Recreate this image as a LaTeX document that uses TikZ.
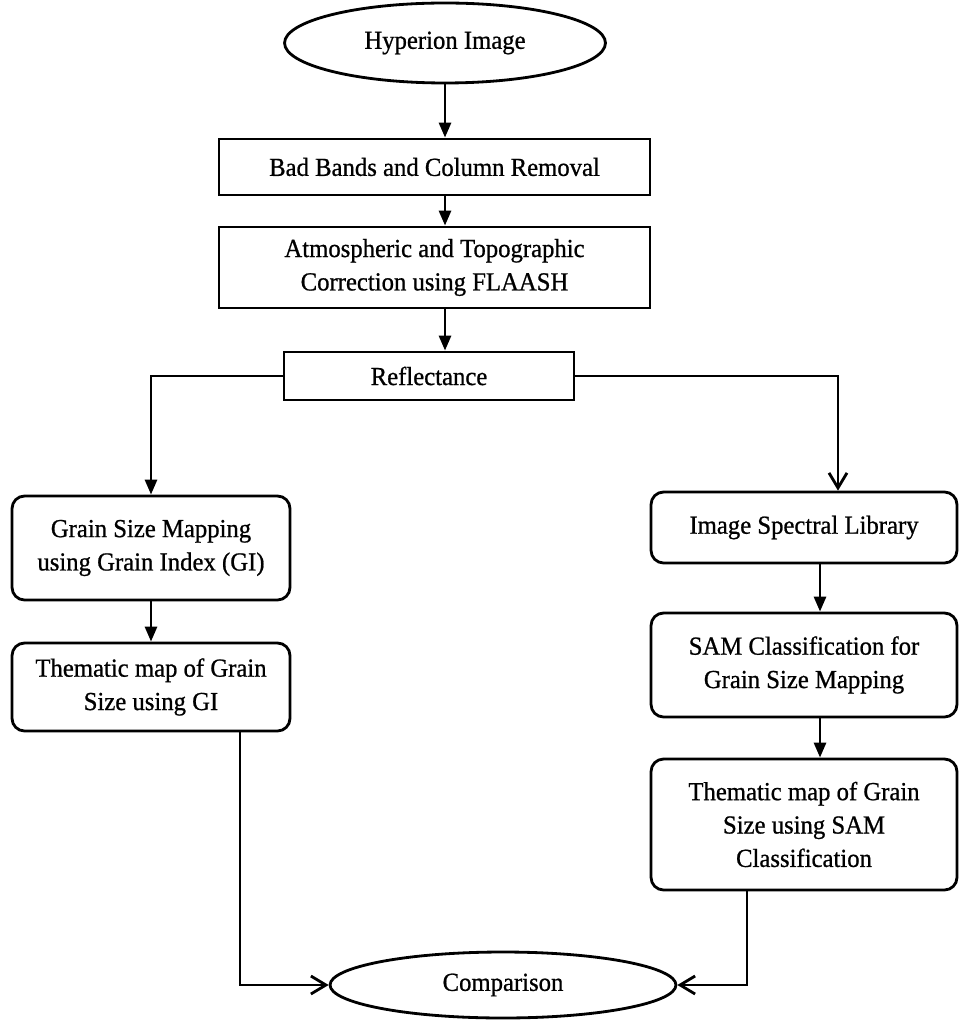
\documentclass[tikz,border=0pt]{standalone}
\usepackage{fontspec}
\setmainfont{Liberation Serif}[FakeBold=0.8, FakeStretch=0.95]
\usetikzlibrary{shapes.geometric, arrows.meta}

\begin{document}
\begin{tikzpicture}[x=0.02cm, y=-0.02cm, line width=1.6pt,
    font=\fontsize{14.8}{19}\selectfont,
    box/.style={draw, align=center, inner sep=0pt},
    rbox/.style={box, rounded corners=0.25cm},
    oval/.style={draw, ellipse, inner sep=0pt},
    fill tip/.style={-{Triangle[length=0.3cm, width=0.24cm]}},
    open tip/.style={-{Straight Barb[length=0.3cm, width=0.36cm]}}]

% Manually size the picture
\useasboundingbox (0, 0) rectangle (959, 1020);

% Main chain
\node[oval, minimum width=6.42cm, minimum height=1.6cm] (hyperion) at (445, 43) {Hyperion Image};
\node[box, minimum width=8.62cm, minimum height=1.12cm] (badbands) at (434.5, 167) {Bad Bands and Column Removal};
\node[box, minimum width=8.62cm, minimum height=1.62cm] (atmos) at (434.5, 267.5) {Atmospheric and Topographic\\Correction using FLAASH};
\node[box, minimum width=5.8cm, minimum height=0.96cm] (refl) at (429, 376) {Reflectance};

% Left branch
\node[rbox, minimum width=5.56cm, minimum height=2.08cm] (gsmap) at (151, 548) {Grain Size Mapping\\using Grain Index (GI)};
\node[rbox, minimum width=5.56cm, minimum height=1.76cm] (gimap) at (151, 687) {Thematic map of Grain\\Size using GI};

% Right branch
\node[rbox, minimum width=6.12cm, minimum height=1.42cm] (speclib) at (804, 527.5) {Image Spectral Library};
\node[rbox, minimum width=6.12cm, minimum height=2.08cm] (samclass) at (804, 665) {SAM Classification for\\Grain Size Mapping};
\node[rbox, minimum width=6.12cm, minimum height=2.62cm] (sammap) at (804, 824.5) {Thematic map of Grain\\Size using SAM\\Classification};

% End
\node[oval, minimum width=6.92cm, minimum height=1.32cm] (compare) at (503, 985) {Comparison};

% Arrows down the main chain
\draw[fill tip] (hyperion) -- (badbands.north -| hyperion);
\draw[fill tip] (badbands.south -| hyperion) -- (atmos.north -| hyperion);
\draw[fill tip] (atmos.south -| hyperion) -- (refl.north -| hyperion);

% Split at reflectance
\draw[fill tip] (refl.west) -| (gsmap.north);
\draw[open tip] (refl.east) -| ([xshift=0.68cm]speclib.north);

% Left side
\draw[fill tip] (gsmap) -- (gimap);
\draw[open tip] ([xshift=1.78cm]gimap.south) |- (compare.west);

% Right side
\draw[fill tip] ([xshift=0.32cm]speclib.south) -- ([xshift=0.32cm]samclass.north);
\draw[fill tip] ([xshift=0.32cm]samclass.south) -- ([xshift=0.32cm]sammap.north);
\draw[open tip] ([xshift=-1.14cm]sammap.south) |- (compare.east);

\end{tikzpicture}
\end{document}
